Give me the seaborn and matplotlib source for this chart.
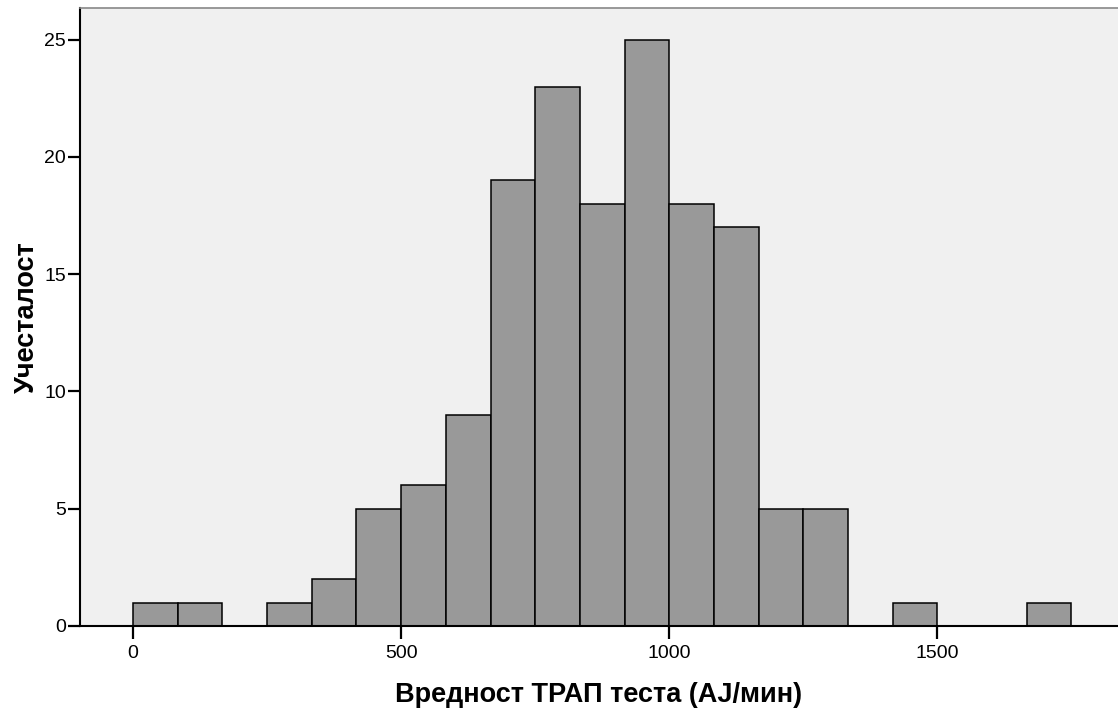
import numpy as np
import pandas as pd
import matplotlib
matplotlib.use("Agg")
import matplotlib.pyplot as plt
import seaborn as sns

# histogram bins (width 500/6 AJ/min) and counts
bin_width = 500 / 6
bin_start = 0.0
counts = [1, 1, 0, 1, 2, 5, 6, 9, 19, 23, 18, 25, 18, 17, 5, 5, 0, 1, 0, 0, 1]
x_ticks = [0, 500, 1000, 1500]
y_ticks = [0, 5, 10, 15, 20, 25]
x_label = "Вредност ТРАП теста (AJ/мин)"
y_label = "Учесталост"

edges = bin_start + bin_width * np.arange(len(counts) + 1)
centers = (edges[:-1] + edges[1:]) / 2
df = pd.DataFrame({"value": centers, "count": counts})

sns.set_style("white")
plt.rcParams["font.family"] = ["Liberation Sans", "DejaVu Sans"]
plt.rcParams["text.color"] = "black"
plt.rcParams["axes.labelcolor"] = "black"

fig = plt.figure(figsize=(11.18, 7.14), dpi=100)
ax = fig.add_axes([80 / 1118, 1 - 626 / 714, 1 - 80 / 1118, (626 - 8) / 714])
ax.set_facecolor("#F0F0F0")

sns.histplot(data=df, x="value", weights="count", binwidth=bin_width,
             binrange=(edges[0], edges[-1]), ax=ax,
             color="#999999", edgecolor="black", linewidth=1.1, alpha=1.0)

ax.set_xlim(-99, 1837)
ax.set_ylim(0, 26.35)
ax.set_xticks(x_ticks)
ax.set_yticks(y_ticks)
ax.tick_params(axis="both", direction="out", length=9, width=1.6,
               labelsize=14, color="black", labelcolor="black",
               bottom=True, left=True, pad=1)
ax.tick_params(axis="x", pad=5)

for s in ["left", "bottom"]:
    ax.spines[s].set_color("black")
    ax.spines[s].set_linewidth(1.5)
ax.spines["top"].set_color("#888888")
ax.spines["top"].set_linewidth(1.2)
ax.spines["right"].set_visible(False)

ax.set_xlabel(x_label, fontsize=19.5, fontweight="bold", labelpad=14)
ax.set_ylabel(y_label, fontsize=19.5, fontweight="bold", labelpad=3)

fig.savefig("out.png", dpi=100)
